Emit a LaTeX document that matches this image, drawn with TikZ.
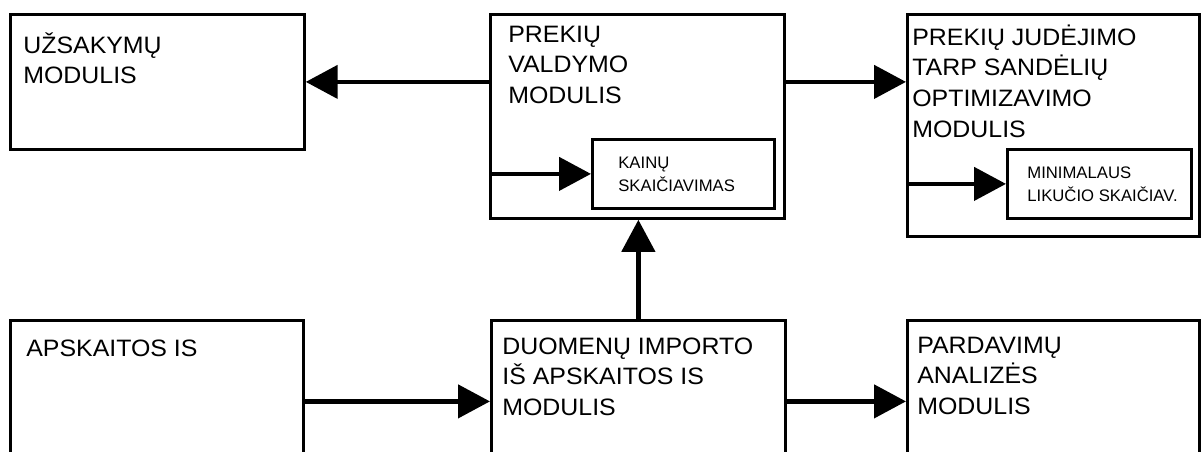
\documentclass[tikz,border=0pt]{standalone}
\usepackage{fontspec}
\usetikzlibrary{arrows.meta}
\newfontfamily\modfont[FakeStretch=1.05]{Liberation Sans}
\newfontfamily\subfont{Liberation Sans}
\tikzset{
  modul/.style={draw, line width=1.6pt, rectangle, inner sep=0pt, anchor=north west},
  modtxt/.style={anchor=north west, inner sep=0pt, align=left,
    font=\modfont\fontsize{13.5pt}{17.6pt}\selectfont},
  subtxt/.style={anchor=north west, inner sep=0pt, align=left,
    font=\subfont\fontsize{9.5pt}{13pt}\selectfont},
  flow/.style={line width=2.6pt, -{Triangle[length=0.64cm,width=0.66cm]}}
}
\begin{document}
\begin{tikzpicture}[x=0.02cm, y=-0.02cm]
        \useasboundingbox (0,0) rectangle (1201,451);
        \clip (0,0) rectangle (1201,451);
        % top row
        \node[modul, minimum width=5.88cm, minimum height=2.70cm] (uzs) at (9,13) {};
        \node[modul, minimum width=5.88cm, minimum height=4.08cm] (valdymo) at (489,13) {};
        \node[modul, minimum width=3.64cm, minimum height=1.38cm] (kainu) at (591,138) {};
        \node[modul, minimum width=5.84cm, minimum height=4.44cm] (judejimo) at (906,13) {};
        \node[modul, minimum width=3.68cm, minimum height=1.38cm] (likucio) at (1006,148) {};
        % bottom row (cut by the page edge)
        \node[modul, minimum width=5.86cm, minimum height=3.24cm] (apskaitos) at (9,319) {};
        \node[modul, minimum width=5.88cm, minimum height=3.24cm] (importo) at (490,319) {};
        \node[modul, minimum width=5.84cm, minimum height=3.24cm] (pardavimu) at (906,319) {};
        % texts
        \node[modtxt] (uzs-t) at (23,31) {\strut UŽSAKYMŲ\\MODULIS};
        \node[modtxt] (valdymo-t) at (508,20) {\strut PREKIŲ\\VALDYMO\\MODULIS};
        \node[subtxt] (kainu-t) at (618,152) {\strut KAINŲ\\SKAIČIAVIMAS};
        \node[modtxt] (judejimo-t) at (912,23) {\strut PREKIŲ JUDĖJIMO\\TARP SANDĖLIŲ\\OPTIMIZAVIMO\\MODULIS};
        \node[subtxt] (likucio-t) at (1027,162) {\strut MINIMALAUS\\LIKUČIO SKAIČIAV.};
        \node[modtxt] (apskaitos-t) at (26,334) {\strut APSKAITOS IS};
        \node[modtxt] (importo-t) at (502,332) {\strut DUOMENŲ IMPORTO\\IŠ APSKAITOS IS\\MODULIS};
        \node[modtxt] (pardavimu-t) at (917,331) {\strut PARDAVIMŲ\\ANALIZĖS\\MODULIS};
        % connectors
        \draw[flow] (valdymo.west |- uzs.east) -- (uzs.east);
        \draw[flow] (valdymo.east |- uzs.east) -- (judejimo.west |- uzs.east);
        \draw[flow] (valdymo.west |- kainu.west) -- (kainu.west);
        \draw[flow] (judejimo.west |- likucio.west) -- (likucio.west);
        \draw[flow] (apskaitos.east) -- (importo.west);
        \draw[flow] (importo.east) -- (pardavimu.west);
        \draw[flow] (importo.north) -- (valdymo.south -| importo.north);
      \end{tikzpicture}
\end{document}
